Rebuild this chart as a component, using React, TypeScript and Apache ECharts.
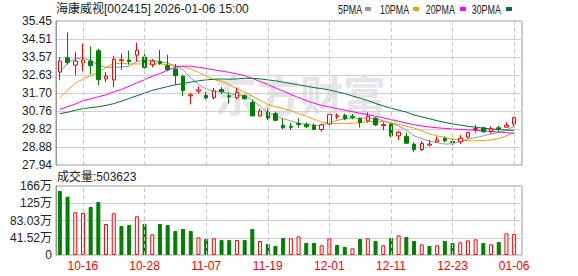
import React, { useEffect, useRef } from 'react';
import * as echarts from 'echarts';

const dates = [
  '10-13','10-14','10-15','10-16','10-17','10-20','10-21','10-22','10-23','10-24',
  '10-27','10-28','10-29','10-30','10-31','11-03','11-04','11-05','11-06','11-07',
  '11-10','11-11','11-12','11-13','11-14','11-17','11-18','11-19','11-20','11-21',
  '11-24','11-25','11-26','11-27','11-28','12-01','12-02','12-03','12-04','12-05',
  '12-08','12-09','12-10','12-11','12-12','12-15','12-16','12-17','12-18','12-19',
  '12-22','12-23','12-24','12-25','12-26','12-29','12-30','12-31','01-05','01-06',
];

const opens = [
  32.79,33.53,33.15,33.26,33.36,33.90,32.43,32.38,33.38,33.41,
  33.67,33.57,33.17,33.34,33.12,32.95,32.57,31.55,31.79,31.57,
  31.45,31.88,31.55,31.45,31.55,31.20,30.50,30.70,30.62,30.01,
  29.96,30.10,30.07,30.01,29.79,30.08,30.46,30.53,30.48,30.36,
  30.24,30.38,29.99,30.07,29.46,29.44,29.03,28.74,28.98,29.15,
  29.32,29.17,29.15,29.39,29.79,29.88,29.70,29.88,29.91,30.08,
];
const closes = [
  33.36,33.29,33.36,33.41,33.12,32.39,32.58,33.45,33.43,33.33,
  33.93,33.03,33.36,33.24,32.91,32.60,31.83,31.60,31.86,31.43,
  31.81,31.76,31.50,31.72,31.39,30.50,30.76,30.39,30.27,29.88,
  29.91,30.05,29.93,29.79,30.03,30.57,30.51,30.36,30.43,30.15,
  30.48,30.03,30.05,29.46,29.65,29.08,28.74,29.06,29.03,29.25,
  29.20,29.12,29.34,29.63,29.84,29.67,29.84,29.82,30.01,30.41,
];
const lows = [
  32.36,33.17,32.62,32.83,32.65,32.10,32.26,32.00,32.90,33.17,
  33.34,32.96,33.03,33.17,32.83,32.12,31.53,31.10,31.65,31.36,
  31.36,31.65,31.14,31.36,31.36,30.50,30.46,30.29,30.24,29.81,
  29.77,29.89,29.86,29.75,29.67,30.01,30.32,30.27,30.32,29.89,
  30.15,29.98,29.75,29.37,29.24,29.03,28.63,28.67,28.91,29.12,
  29.12,28.98,29.03,29.32,29.62,29.63,29.58,29.67,29.89,29.94,
];
const highs = [
  33.57,34.85,33.84,34.26,34.12,34.00,32.79,33.64,33.76,33.90,
  34.31,33.74,33.46,33.95,33.69,33.21,32.65,31.70,32.03,31.74,
  31.96,32.00,31.74,31.96,31.62,31.36,30.88,30.88,30.72,30.38,
  30.12,30.38,30.15,30.10,30.10,30.62,30.63,30.62,30.60,30.41,
  30.69,30.45,30.17,30.12,29.72,29.62,29.12,29.18,29.24,29.43,
  29.43,29.32,29.50,29.65,30.03,29.94,29.96,29.98,30.17,30.46,
];

const volumes = [
  1540000,1404000,1027000,1011000,1155000,1276000,746000,1003000,698000,722000,
  931000,746000,497000,746000,722000,578000,626000,578000,425000,385000,
  401000,361000,361000,361000,361000,626000,337000,265000,217000,409000,
  401000,449000,289000,289000,233000,401000,241000,193000,160000,385000,
  401000,337000,233000,409000,473000,433000,337000,257000,217000,233000,
  337000,289000,305000,353000,377000,289000,257000,313000,521000,503623,
];
const volUp = [
  0,0,1,1,0,0,1,1,0,0,
  1,0,1,0,0,0,0,0,1,0,
  1,0,0,1,0,0,1,0,0,0,
  1,1,0,0,1,1,0,0,1,0,
  1,0,1,0,1,0,0,1,0,1,
  0,0,1,1,1,0,1,0,1,1,
];

const ma5 = [
  32.74,33.29,33.48,33.52,33.40,33.14,33.03,33.03,33.05,33.09,
  33.34,33.40,33.40,33.34,33.26,33.10,32.91,32.48,32.14,31.91,
  31.79,31.76,31.67,31.62,31.53,31.31,31.01,30.67,30.50,30.36,
  30.24,30.13,30.05,30.01,30.01,30.15,30.27,30.34,30.38,30.39,
  30.39,30.36,30.25,30.12,29.98,29.75,29.46,29.32,29.18,29.10,
  29.03,29.05,29.18,29.29,29.37,29.46,29.56,29.63,29.77,29.94,
];
const ma10 = [
  31.45,31.84,32.19,32.43,32.60,32.79,33.03,33.24,33.24,33.21,
  33.21,33.21,33.21,33.21,33.17,33.10,33.07,32.95,32.77,32.57,
  32.39,32.31,32.14,31.91,31.74,31.53,31.31,31.10,30.98,30.88,
  30.77,30.62,30.48,30.32,30.18,30.12,30.10,30.10,30.12,30.15,
  30.20,30.22,30.20,30.15,30.06,29.96,29.87,29.72,29.56,29.46,
  29.37,29.29,29.24,29.20,29.20,29.22,29.25,29.32,29.46,29.63,
];
const ma20 = [
  30.84,30.98,31.12,31.29,31.39,31.50,31.60,31.76,31.88,32.05,
  32.22,32.39,32.57,32.71,32.88,33.05,33.10,33.09,33.04,32.97,
  32.90,32.84,32.77,32.69,32.60,32.45,32.30,32.14,31.96,31.79,
  31.62,31.45,31.30,31.16,31.05,30.96,30.88,30.80,30.72,30.64,
  30.56,30.48,30.40,30.31,30.22,30.12,30.04,29.97,29.92,29.88,
  29.85,29.82,29.79,29.77,29.75,29.72,29.69,29.66,29.63,29.60,
];
const ma30 = [
  30.62,30.69,30.79,30.88,30.93,30.98,31.05,31.14,31.27,31.41,
  31.55,31.69,31.83,31.93,32.03,32.12,32.19,32.26,32.33,32.38,
  32.41,32.43,32.41,32.43,32.46,32.46,32.43,32.38,32.33,32.26,
  32.19,32.12,32.05,31.98,31.92,31.85,31.76,31.66,31.54,31.42,
  31.30,31.15,31.02,30.90,30.80,30.70,30.55,30.45,30.35,30.25,
  30.16,30.08,30.02,29.96,29.91,29.86,29.82,29.79,29.76,29.74,
];

const priceTicks = ['27.94','28.88','29.82','30.76','31.70','32.63','33.57','34.51','35.45'];
const volTicks = ['0','41.52万','83.03万','125万','166万'];
const labelDates = ['10-16','10-28','11-07','11-19','12-01','12-11','12-23','01-06'];
const maNames = ['5PMA','10PMA','20PMA','30PMA'];
const titleText = '海康威视[002415] 2026-01-06 15:00';
const volTitle = '成交量:503623';
const watermark = '东方财富';
const priceMin = 27.94;
const priceMax = 35.45;
const volMax = 1660600;

const RED = '#ff0000';
const GREEN = '#008000';
const maColors = ['#999999', '#f0a000', '#ff00ff', '#006f3c'];
const FONT = 'Liberation Sans, Noto Sans CJK SC, sans-serif';

function buildOption() {
  const maData = [ma5, ma10, ma20, ma30];
  const legendTextX = [338, 380, 425.7, 471.7];
  const legendBoxX = [365, 413, 460, 506];
  const graphics: any[] = [
    {
      type: 'text', x: 214, y: 93, z: -10, silent: true,
      style: { text: watermark, fontSize: 43, fontWeight: 'bold', fontFamily: 'Noto Sans CJK SC', fill: '#e4e4e9', verticalAlign: 'middle' },
    },
    {
      type: 'text', x: 56, y: 9,
      style: { text: titleText, fontSize: 12, fontFamily: FONT, fill: '#222', verticalAlign: 'middle' },
    },
    {
      type: 'text', x: 57, y: 177,
      style: { text: volTitle, fontSize: 12, fontFamily: FONT, fill: '#222', verticalAlign: 'middle' },
    },
  ];
  maNames.forEach((n, i) => {
    graphics.push({
      type: 'text', x: legendTextX[i], y: 9, scaleX: 0.74,
      style: { text: n, fontSize: 12, fontFamily: FONT, fill: '#222', verticalAlign: 'middle' },
    });
    graphics.push({
      type: 'rect', shape: { x: legendBoxX[i], y: 7, width: 6, height: 4 },
      style: { fill: maColors[i] },
    });
  });

  const dashLine = {
    symbol: ['none', 'none'], silent: true, animation: false,
    label: { show: false },
    lineStyle: { color: '#c8c8c8', type: [4, 3], width: 1 },
    emphasis: { disabled: true },
    data: labelDates.map((d) => ({ xAxis: d })),
  };

  return {
    animation: false,
    backgroundColor: '#ffffff',
    graphic: graphics,
    grid: [
      { left: 56, top: 21, width: 466, height: 144, show: true, borderColor: '#999', borderWidth: 1 },
      { left: 56, top: 21, width: 462, height: 144 },
      { left: 56, top: 186, width: 466, height: 69, show: true, borderColor: '#999', borderWidth: 1 },
      { left: 56, top: 186, width: 462, height: 69 },
    ],
    xAxis: [
      { gridIndex: 0, type: 'value', min: 0, max: 1, show: false },
      { gridIndex: 1, type: 'category', data: dates, show: false },
      { gridIndex: 2, type: 'value', min: 0, max: 1, show: false },
      {
        gridIndex: 3, type: 'category', data: dates,
        axisLine: { show: false }, axisTick: { show: false }, splitLine: { show: false },
        axisLabel: {
          interval: (_i: number, v: string) => labelDates.includes(v),
          color: RED, fontSize: 12, fontFamily: FONT, margin: 5,
        },
      },
    ],
    yAxis: [
      {
        gridIndex: 0, type: 'value', min: 0, max: 8, interval: 1,
        axisLine: { show: true, lineStyle: { color: '#999' } }, axisTick: { show: false },
        splitLine: { show: true, lineStyle: { color: '#d0d0d0' } },
        axisLabel: { formatter: (v: number) => priceTicks[Math.round(v)], color: '#222', fontSize: 12, fontFamily: FONT, margin: 4 },
      },
      { gridIndex: 1, type: 'value', min: priceMin, max: priceMax, show: false },
      {
        gridIndex: 2, type: 'value', min: 0, max: 4, interval: 1,
        axisLine: { show: true, lineStyle: { color: '#999' } }, axisTick: { show: false },
        splitLine: { show: true, lineStyle: { color: '#d0d0d0' } },
        axisLabel: { formatter: (v: number) => volTicks[Math.round(v)], color: '#222', fontSize: 12, fontFamily: FONT, margin: 4 },
      },
      { gridIndex: 3, type: 'value', min: 0, max: volMax, show: false },
    ],
    series: [
      { type: 'line', xAxisIndex: 0, yAxisIndex: 0, data: [], silent: true },
      { type: 'line', xAxisIndex: 2, yAxisIndex: 2, data: [], silent: true },
      { type: 'line', xAxisIndex: 1, yAxisIndex: 1, data: [], silent: true, z: 1, markLine: dashLine },
      { type: 'line', xAxisIndex: 3, yAxisIndex: 3, data: [], silent: true, z: 1, markLine: dashLine },
      ...maNames.map((n, i) => ({
        name: n, type: 'line', xAxisIndex: 1, yAxisIndex: 1, data: maData[i],
        symbol: 'none', silent: true, z: 3,
        lineStyle: { color: maColors[i], width: 1 },
      })),
      {
        type: 'candlestick', xAxisIndex: 1, yAxisIndex: 1, barWidth: 4, z: 4, silent: true,
        data: dates.map((_, i) => [opens[i], closes[i], lows[i], highs[i]]),
        itemStyle: { color: '#ffffff', color0: GREEN, borderColor: RED, borderColor0: GREEN, borderWidth: 1 },
      },
      {
        type: 'bar', xAxisIndex: 3, yAxisIndex: 3, barWidth: 4, z: 4, silent: true,
        data: volumes.map((v, i) => ({
          value: v,
          itemStyle: volUp[i]
            ? { color: '#ffffff', borderColor: RED, borderWidth: 1 }
            : { color: GREEN, borderColor: GREEN, borderWidth: 1 },
        })),
      },
    ],
  };
}

export default function App() {
  const ref = useRef<HTMLDivElement>(null);
  useEffect(() => {
    const chart = echarts.init(ref.current as HTMLDivElement, null, { renderer: 'svg' });
    chart.setOption(buildOption() as any);
    return () => chart.dispose();
  }, []);
  return (
    <div
      ref={ref}
      style={{ position: 'absolute', left: 0, top: 0, width: 578, height: 276, background: '#fff' }}
    />
  );
}
